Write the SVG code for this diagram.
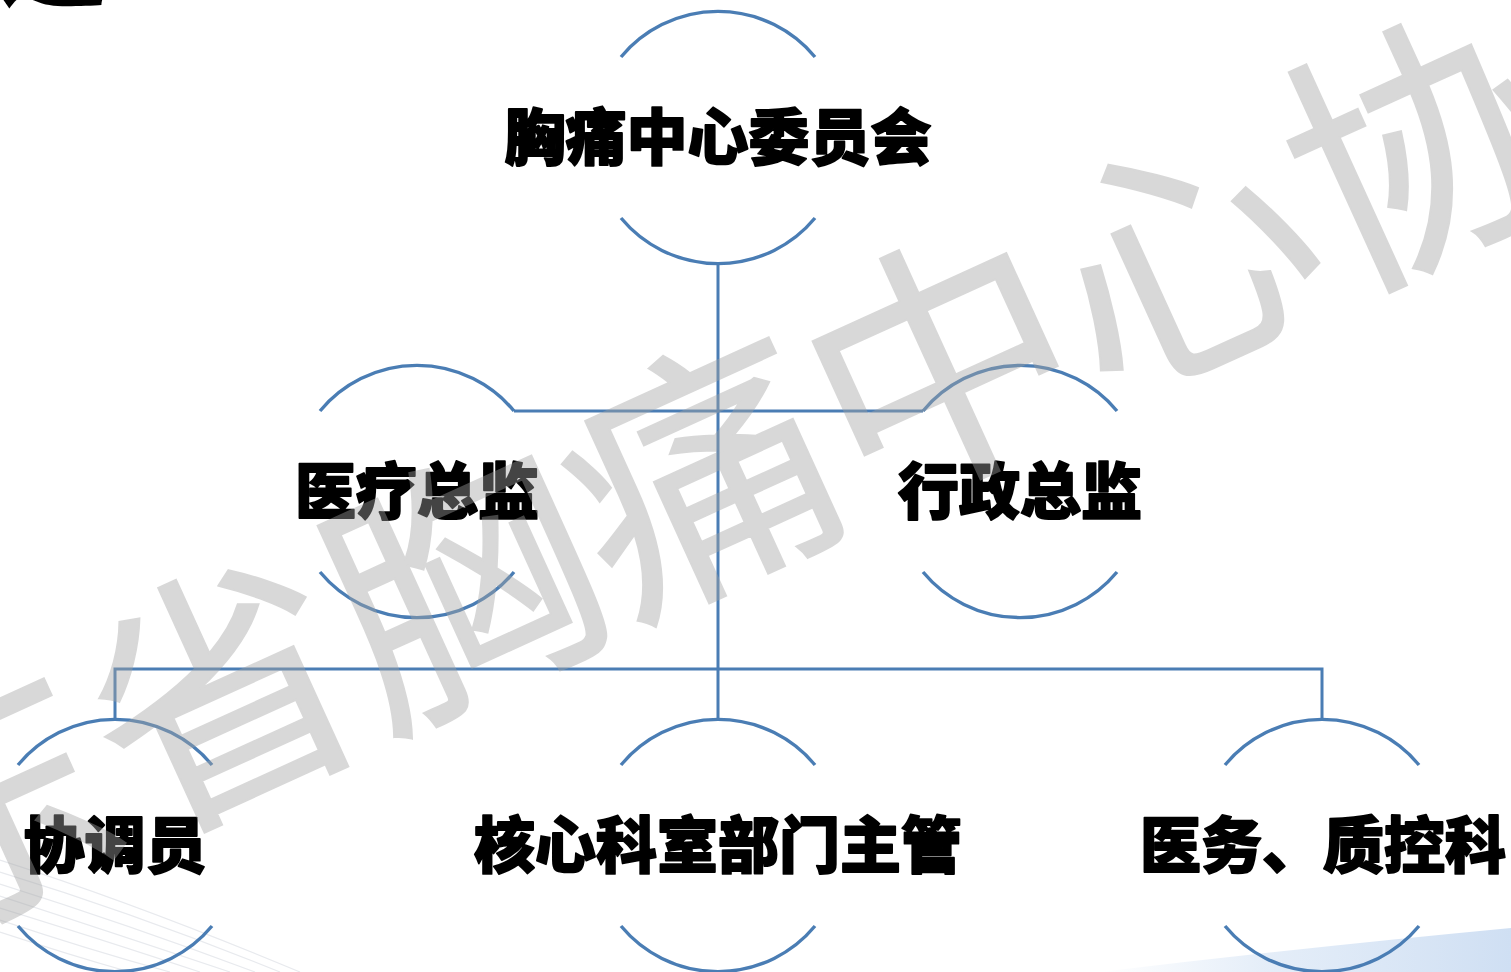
<svg xmlns="http://www.w3.org/2000/svg" width="1511" height="972" viewBox="0 0 1511 972">
  <defs>
    <style>
      .arc { fill: none; stroke: #4a7db4; stroke-width: 3.4; }
      .conn { fill: none; stroke: #4a7db4; stroke-width: 3; }
      .lbl { font-family: "Noto Sans CJK SC", "Noto Sans", sans-serif; font-weight: 900; font-size: 61px; fill: #000; stroke: #000; stroke-width: 1.8; stroke-linejoin: round; text-anchor: middle; }
      .wm { font-family: "Noto Sans CJK SC", "Noto Sans", sans-serif; font-weight: 400; font-size: 264px; fill: #a3a3a3; stroke: #a3a3a3; stroke-width: 2; }
      .deco { fill: none; stroke: #e8eaee; stroke-width: 1.2; }
    </style>
    <linearGradient id="mesh" x1="0" y1="0" x2="1" y2="0">
      <stop offset="0" stop-color="#d3e2f4" stop-opacity="0"/>
      <stop offset="0.4" stop-color="#d3e2f4" stop-opacity="0.6"/>
      <stop offset="1" stop-color="#c3d7f0" stop-opacity="0.8"/>
    </linearGradient>
  </defs>
  <rect width="1511" height="972" fill="#ffffff"/>

  <!-- background decorations -->
  <g id="decor">
    <path class="deco" d="M0,860 Q140,905 300,972"/>
    <path class="deco" d="M0,872 Q140,915 280,972"/>
    <path class="deco" d="M0,884 Q130,925 255,972"/>
    <path class="deco" d="M0,896 Q120,935 230,972"/>
    <path class="deco" d="M0,908 Q110,942 200,972"/>
    <path class="deco" d="M0,920 Q90,950 170,972"/>
    <path class="deco" d="M0,932 Q70,955 130,972"/>
    <path d="M1100,972 Q1300,948 1511,928 L1511,972 Z" fill="url(#mesh)"/>
  </g>

  <!-- partial title at top-left -->
  <text x="-2" y="-2" style="font-family: 'Noto Sans CJK SC', sans-serif; font-weight: 900; font-size: 110px; fill: #000;">述</text>

  <g id="connectors">
    <path class="conn" d="M718,263 V721"/>
    <path class="conn" d="M514,411 H923"/>
    <path class="conn" d="M115,721 V669 H1322 V721"/>
  </g>

  <g id="node-committee">
    <path class="arc" d="M621,57 A126,126 0 0 1 815,57"/>
    <path class="arc" d="M621,218 A126,126 0 0 0 815,218"/>
    <text class="lbl" x="718" y="160">胸痛中心委员会</text>
  </g>

  <g id="node-medical">
    <path class="arc" d="M320,411 A126,126 0 0 1 514,411"/>
    <path class="arc" d="M320,572 A126,126 0 0 0 514,572"/>
    <text class="lbl" x="417" y="514">医疗总监</text>
  </g>

  <g id="node-admin">
    <path class="arc" d="M923,411 A126,126 0 0 1 1117,411"/>
    <path class="arc" d="M923,572 A126,126 0 0 0 1117,572"/>
    <text class="lbl" x="1020" y="514">行政总监</text>
  </g>

  <g id="node-coordinator">
    <path class="arc" d="M18,765 A126,126 0 0 1 212,765"/>
    <path class="arc" d="M18,926 A126,126 0 0 0 212,926"/>
    <text class="lbl" x="115" y="868">协调员</text>
  </g>

  <g id="node-core">
    <path class="arc" d="M621,765 A126,126 0 0 1 815,765"/>
    <path class="arc" d="M621,926 A126,126 0 0 0 815,926"/>
    <text class="lbl" x="718" y="868">核心科室部门主管</text>
  </g>

  <g id="node-quality">
    <path class="arc" d="M1225,765 A126,126 0 0 1 1419,765"/>
    <path class="arc" d="M1225,926 A126,126 0 0 0 1419,926"/>
    <text class="lbl" x="1323" y="868">医务、质控科</text>
  </g>

  <!-- watermark -->
  <g id="watermark" opacity="0.42" transform="translate(702,478) rotate(-24.5)">
    <text class="wm" x="0" y="96" text-anchor="middle">东省胸痛中心协</text>
  </g>
</svg>
